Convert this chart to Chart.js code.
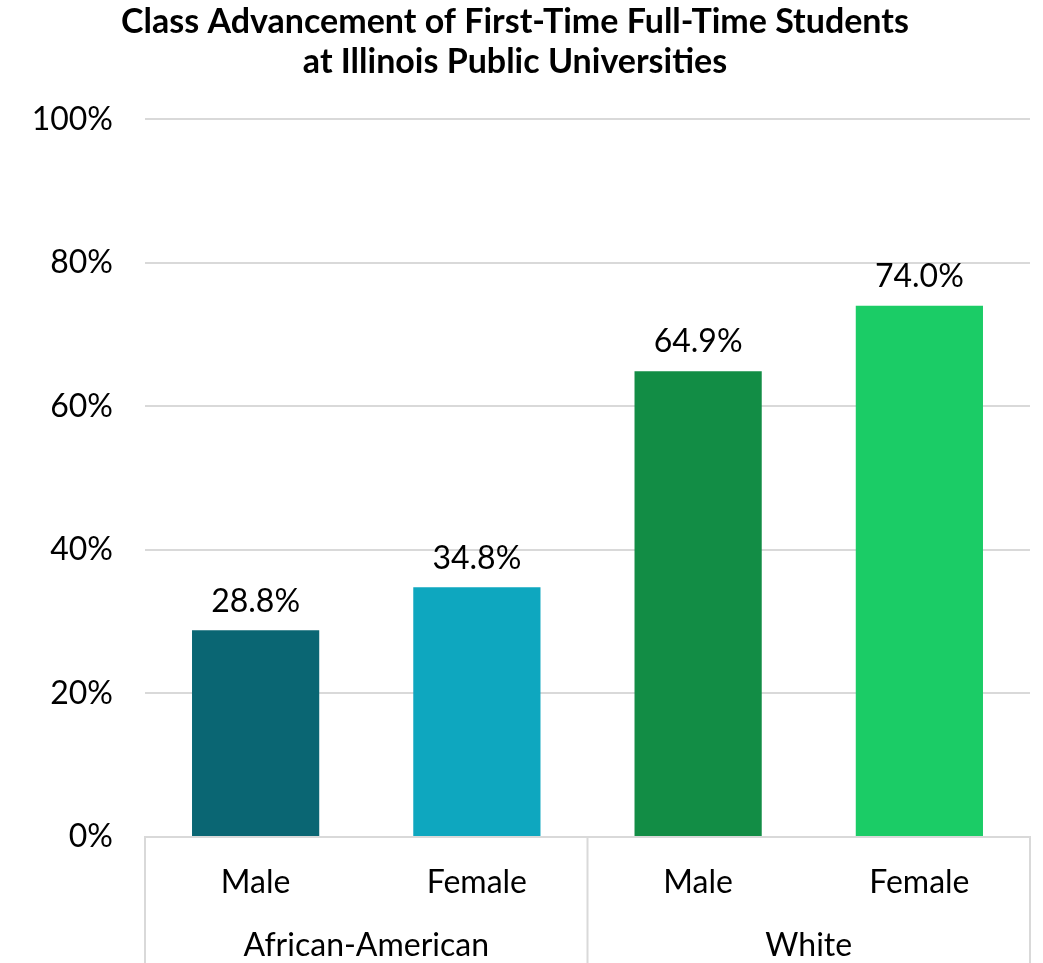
<!DOCTYPE html>
<html lang="en">
<head>
    <meta charset="UTF-8">
    <script src="https://cdn.jsdelivr.net/npm/chart.js"></script>
    <title>Class Advancement</title>
    <style>
        body {
            margin: 0;
            background: #fff;
        }
        .wrap {
            width: 1043px;
            height: 963px;
            position: relative;
        }
    </style>
</head>
<body>
    <div class="wrap">
        <canvas id="advChart"></canvas>
    </div>

    <script>
        // data
        const subLabels = ['Male', 'Female', 'Male', 'Female'];
        const groupLabels = ['African-American', 'White'];
        const rates = [28.8, 34.8, 64.9, 74.0];
        const barColors = ['#0a6673', '#0ea7bf', '#128d45', '#1bcc66'];
        const yTicks = [0, 20, 40, 60, 80, 100];

        const fontFam = 'Lato, "Noto Sans", sans-serif';
        const lineGray = '#d9d9d9';
        const txtSize = 32;

        // value labels on top of bars
        const barLabels = {
            id: 'barLabels',
            afterDatasetsDraw(chart) {
                const ctx = chart.ctx;
                const meta = chart.getDatasetMeta(0);
                ctx.save();
                ctx.font = txtSize + 'px ' + fontFam;
                ctx.fillStyle = '#000';
                ctx.textAlign = 'center';
                ctx.textBaseline = 'middle';
                meta.data.forEach((bar, i) => {
                    ctx.fillText(rates[i].toFixed(1) + '%', bar.x, bar.y - 29);
                });
                ctx.restore();
            }
        };

        // box lines under the plot for the two level category axis
        const groupLines = {
            id: 'groupLines',
            afterDraw(chart) {
                const ctx = chart.ctx;
                const xs = chart.scales.x;
                const area = chart.chartArea;
                const mid = (xs.getPixelForValue(1) + xs.getPixelForValue(2)) / 2;
                ctx.save();
                ctx.strokeStyle = lineGray;
                ctx.lineWidth = 2;
                [area.left, mid, area.right].forEach(px => {
                    ctx.beginPath();
                    ctx.moveTo(px, area.bottom);
                    ctx.lineTo(px, chart.height);
                    ctx.stroke();
                });
                ctx.restore();
            }
        };

        const ctx = document.getElementById('advChart').getContext('2d');
        new Chart(ctx, {
            type: 'bar',
            data: {
                labels: subLabels,
                datasets: [{
                    data: rates,
                    backgroundColor: barColors,
                    barPercentage: 0.575,
                    categoryPercentage: 1.0
                }]
            },
            options: {
                responsive: true,
                maintainAspectRatio: false,
                animation: false,
                layout: { padding: { left: 0, right: 13, top: 0, bottom: 0 } },
                plugins: {
                    legend: { display: false },
                    tooltip: { enabled: false },
                    title: {
                        display: true,
                        text: ['Class Advancement of First-Time Full-Time Students', 'at Illinois Public Universities'],
                        color: '#000',
                        font: { family: fontFam, size: 34, weight: 'bold', lineHeight: 1.18 },
                        padding: { top: 2, bottom: 37 }
                    }
                },
                scales: {
                    y: {
                        min: 0,
                        max: 100,
                        afterBuildTicks(scale) {
                            scale.ticks = yTicks.map(v => ({ value: v }));
                        },
                        afterFit(scale) {
                            scale.width = 145;
                        },
                        ticks: {
                            color: '#000',
                            font: { family: fontFam, size: txtSize },
                            padding: 32,
                            callback: v => v + '%'
                        },
                        grid: {
                            color: lineGray,
                            lineWidth: 2,
                            drawTicks: false
                        },
                        border: { display: false }
                    },
                    x: {
                        position: 'bottom',
                        afterFit(scale) {
                            scale.height = 68;
                        },
                        ticks: {
                            color: '#000',
                            font: { family: fontFam, size: txtSize },
                            padding: 18,
                            maxRotation: 0
                        },
                        grid: { display: false },
                        border: { display: true, color: lineGray, width: 2 }
                    },
                    x2: {
                        type: 'category',
                        position: 'bottom',
                        labels: groupLabels,
                        offset: true,
                        afterFit(scale) {
                            scale.height = 58;
                        },
                        ticks: {
                            color: '#000',
                            font: { family: fontFam, size: txtSize },
                            padding: 13,
                            maxRotation: 0
                        },
                        grid: { display: false },
                        border: { display: false }
                    }
                }
            },
            plugins: [barLabels, groupLines]
        });
    </script>
</body>
</html>
